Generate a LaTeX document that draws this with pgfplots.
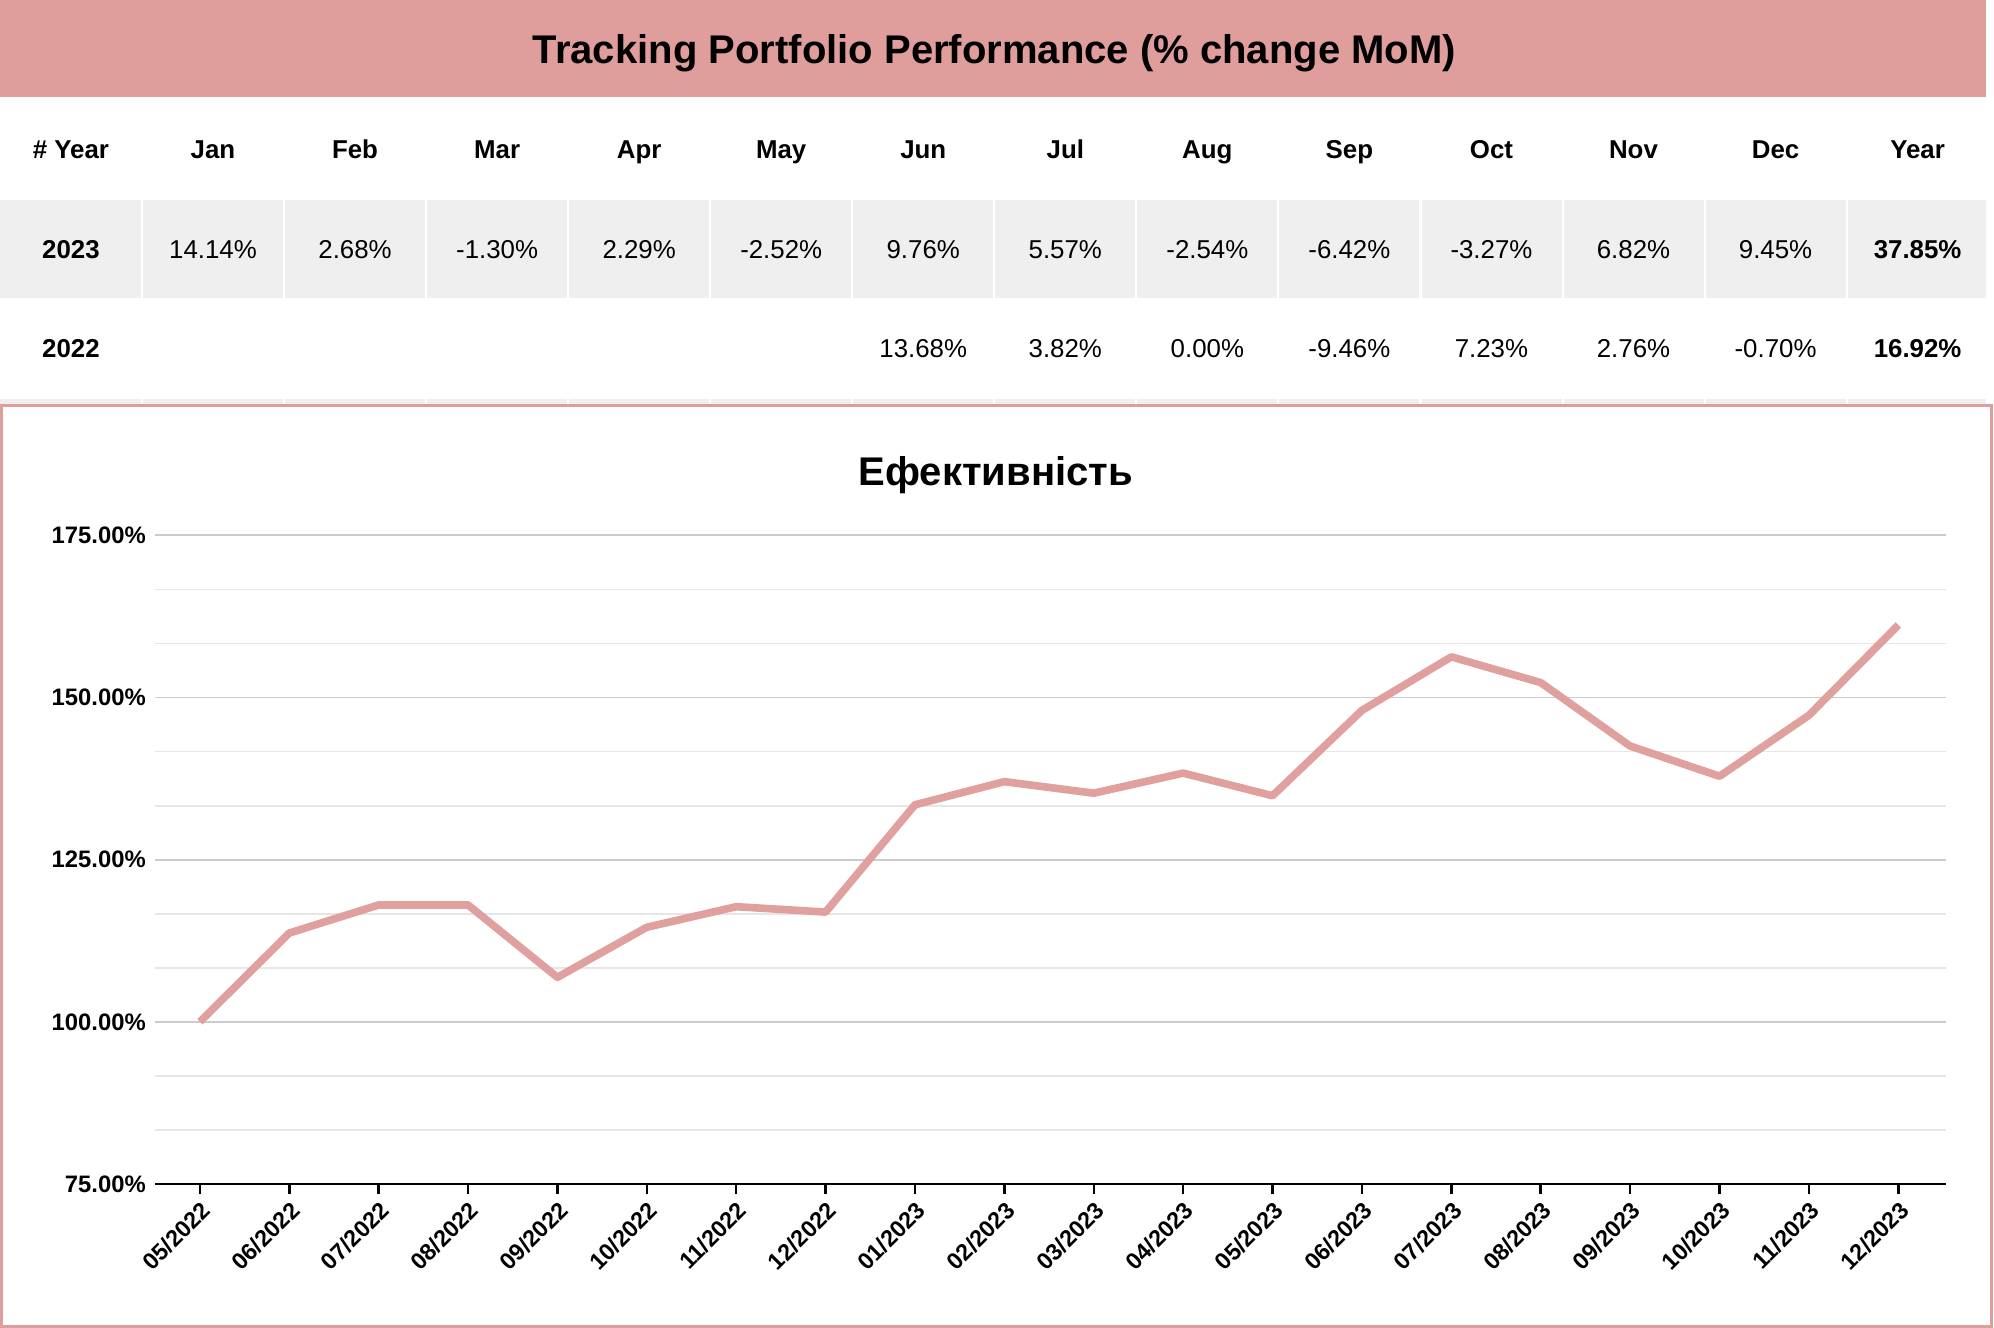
\documentclass[border=0pt]{standalone}
\usepackage{fontspec}
\setmainfont{Liberation Sans}
\usepackage{pgfplots}
\pgfplotsset{compat=1.18}
\definecolor{pinkc}{HTML}{DF9E9C}
\definecolor{linec}{HTML}{E0A09E}
\definecolor{rowgray}{HTML}{EFEFEF}
\definecolor{gridmaj}{HTML}{CCCCCC}
\definecolor{gridmin}{HTML}{E6E6E6}
\begin{document}
\begin{tikzpicture}
\path (0,0) rectangle (784bp,-522bp);
% title band
\fill[pinkc] (0,0) rectangle (781bp,-38bp);
\node[font=\fontsize{15.8}{18}\bfseries\selectfont, anchor=base] at (391bp,-24.8bp) {Tracking Portfolio Performance (\% change MoM)};
% table rows
\fill[rowgray] (0,-78.5bp) rectangle (781bp,-117bp);
\fill[rowgray] (0,-157bp) rectangle (781bp,-161bp);
\foreach \i in {1,...,13}{
  \draw[white, line width=0.8bp] ({\i*55.85bp},-78.5bp) -- ({\i*55.85bp},-117bp);
  \draw[white, line width=0.8bp] ({\i*55.85bp},-157bp) -- ({\i*55.85bp},-161bp);
}
\foreach \t [count=\i from 0] in {\# Year,Jan,Feb,Mar,Apr,May,Jun,Jul,Aug,Sep,Oct,Nov,Dec,Year}{
  \node[font=\fontsize{10.2}{12}\bfseries\selectfont, anchor=base] at ({27.9bp+\i*55.85bp},-62.2bp) {\t};
}
\node[font=\fontsize{10.2}{12}\bfseries\selectfont, anchor=base] at (27.9bp,-101.7bp) {2023};
\foreach \t [count=\i from 1] in {14.14\%,2.68\%,-1.30\%,2.29\%,-2.52\%,9.76\%,5.57\%,-2.54\%,-6.42\%,-3.27\%,6.82\%,9.45\%}{
  \node[font=\fontsize{10.2}{12}\selectfont, anchor=base] at ({27.9bp+\i*55.85bp},-101.7bp) {\t};
}
\node[font=\fontsize{10.2}{12}\bfseries\selectfont, anchor=base] at ({27.9bp+13*55.85bp},-101.7bp) {37.85\%};
\node[font=\fontsize{10.2}{12}\bfseries\selectfont, anchor=base] at (27.9bp,-140.7bp) {2022};
\foreach \t [count=\i from 6] in {13.68\%,3.82\%,0.00\%,-9.46\%,7.23\%,2.76\%,-0.70\%}{
  \node[font=\fontsize{10.2}{12}\selectfont, anchor=base] at ({27.9bp+\i*55.85bp},-140.7bp) {\t};
}
\node[font=\fontsize{10.2}{12}\bfseries\selectfont, anchor=base] at ({27.9bp+13*55.85bp},-140.7bp) {16.92\%};
% chart frame
\fill[white] (0.5bp,-159.5bp) rectangle (783bp,-521.5bp);
\draw[pinkc, line width=1bp] (0.5bp,-159.5bp) rectangle (783bp,-521.5bp);
\node[font=\fontsize{15.8}{18}\bfseries\selectfont, anchor=base] at (391.5bp,-190.7bp) {Ефективність};
\begin{axis}[
  at={(61bp,-465.5bp)}, anchor=south west,
  scale only axis, width=704bp, height=255bp,
  xmin=-0.5, xmax=19.53, ymin=75, ymax=175,
  axis x line*=bottom, axis y line*=left,
  y axis line style={draw=none},
  x axis line style={black, line width=1bp},
  xtick={0,...,19},
  xticklabels={05/2022,06/2022,07/2022,08/2022,09/2022,10/2022,11/2022,12/2022,01/2023,02/2023,03/2023,04/2023,05/2023,06/2023,07/2023,08/2023,09/2023,10/2023,11/2023,12/2023},
  xticklabel style={rotate=45, anchor=north east, font=\fontsize{9.2}{11}\bfseries\selectfont, inner sep=1.5bp},
  xtick style={black, line width=1bp},
  tick align=outside, major tick length=4bp,
  ytick={75,100,125,150,175},
  yticklabels={75.00\%,100.00\%,125.00\%,150.00\%,175.00\%},
  yticklabel style={font=\fontsize{9.4}{11}\bfseries\selectfont, inner sep=1bp, xshift=1.5bp},
  ytick style={draw=none},
  minor y tick num=2,
  ymajorgrids, yminorgrids,
  major grid style={gridmaj, line width=0.7bp},
  minor grid style={gridmin, line width=0.7bp},
  clip=false,
]
\addplot[linec, line width=3bp, line join=round] coordinates {
(0,100.00) (1,113.68) (2,118.02) (3,118.02) (4,106.86) (5,114.58) (6,117.75) (7,116.92)
(8,133.46) (9,137.03) (10,135.25) (11,138.35) (12,134.86) (13,148.02) (14,156.27)
(15,152.30) (16,142.52) (17,137.86) (18,147.26) (19,161.18)
};
\end{axis}
\end{tikzpicture}
\end{document}
